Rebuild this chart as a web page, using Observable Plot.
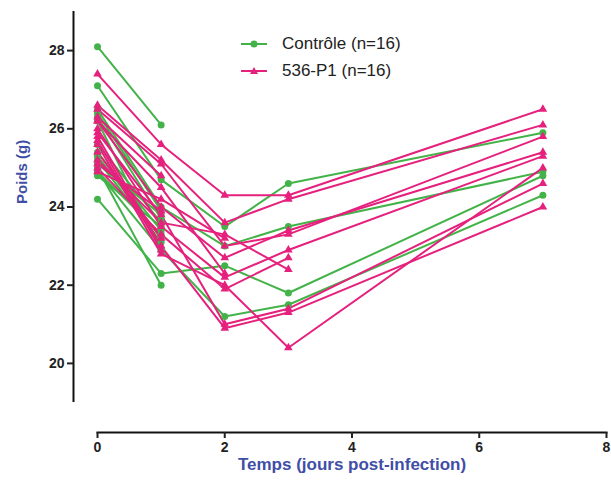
<!DOCTYPE html>
<html>
<head>
<meta charset="utf-8">
<script src="https://cdn.jsdelivr.net/npm/d3@7"></script>
<script src="https://cdn.jsdelivr.net/npm/@observablehq/plot@0.6"></script>
<style>
  html, body { margin: 0; padding: 0; background: #fff; }
  #wrap { position: relative; width: 611px; height: 486px; font-family: "Liberation Sans", Arial, sans-serif; }
  #legend { position: absolute; left: 240px; top: 30px; font-size: 17px; color: #222; line-height: 27px; }
  #legend div { display: flex; align-items: center; height: 27px; }
  #legend svg { margin-right: 14px; }
</style>
</head>
<body>
<div id="wrap">
  <div id="chart"></div>
  <div id="legend"></div>
</div>
<script>
// Days of measurement
const days = [0, 1, 2, 3, 7];
// Series names and colours
const groups = ["Contrôle (n=16)", "536-P1 (n=16)"];
const colors = ["#43b349", "#e5207d"];
// Axis ticks / domains
const xTicks = [0, 2, 4, 6, 8];
const yTicks = [20, 22, 24, 26, 28];
const xDomain = [0, 8];
const yDomain = [19, 29];
const xTitle = "Temps (jours post-infection)";
const yTitle = "Poids (g)";

// Contrôle: weight per mouse at days 0,1,2,3,7 (null = not measured)
const controle = [
  [28.1, 26.1, null, null, null],
  [27.1, 24.7, 23.5, 24.6, 25.9],
  [26.5, 24.0, 23.0, 23.5, 24.9],
  [24.2, 22.3, 22.5, 21.8, 24.8],
  [26.2, 22.9, 21.2, 21.5, 24.3],
  [26.4, 23.9, null, null, null],
  [25.6, 23.6, null, null, null],
  [25.4, 23.4, null, null, null],
  [25.3, 23.2, null, null, null],
  [25.1, 23.8, null, null, null],
  [25.0, 22.0, null, null, null],
  [24.9, 23.3, null, null, null],
  [24.8, 23.5, null, null, null],
  [26.3, 23.7, null, null, null],
  [25.2, 23.1, null, null, null],
  [24.9, 22.9, null, null, null]
];
// 536-P1: weight per mouse at days 0,1,2,3,7
const p1 = [
  [27.4, 25.6, 24.3, 24.3, 26.5],
  [26.6, 25.2, 23.6, 24.2, 26.1],
  [26.5, 25.1, 23.0, 23.3, 25.8],
  [26.2, 24.0, 22.7, 23.4, 25.4],
  [26.0, 23.5, 22.2, 22.9, 25.3],
  [25.9, 23.8, 21.0, 21.4, 24.6],
  [25.8, 23.0, 20.9, 21.3, 24.0],
  [25.6, 22.8, 22.0, 20.4, 25.0],
  [25.2, 23.6, 23.3, 22.4, null],
  [25.0, 23.3, 21.9, 22.7, null],
  [24.9, 24.2, 23.2, null, null],
  [26.2, 24.5, 22.3, null, null],
  [25.4, 23.2, null, null, null],
  [25.7, 22.9, null, null, null],
  [26.3, 24.8, null, null, null],
  [25.1, 23.9, null, null, null]
];

function tidy(rows, g) {
  const out = [];
  rows.forEach((r, i) => r.forEach((v, j) => {
    if (v != null) out.push({group: g, id: g + "-" + i, day: days[j], w: v});
  }));
  return out;
}
const dataC = tidy(controle, groups[0]);
const dataP = tidy(p1, groups[1]);

const chart = Plot.plot({
  width: 611,
  height: 486,
  marginLeft: 97,
  marginRight: 5,
  marginTop: 11,
  marginBottom: 54,
  style: {fontFamily: "Liberation Sans, Arial, sans-serif", background: "#fff"},
  x: {domain: xDomain, ticks: xTicks},
  y: {domain: yDomain, range: [402, 11], ticks: yTicks},
  marks: [
    // y axis line, offset to the left of the plotting area
    Plot.ruleX([xDomain[0]], {y1: yDomain[0], y2: yDomain[1], dx: -24, stroke: "#111", strokeWidth: 2}),
    Plot.axisY({ticks: yTicks, dx: -24, tickSize: 6, strokeWidth: 2, tickPadding: 3, fontSize: 14, fontWeight: "bold", color: "#222", label: null}),
    // x axis line
    Plot.frame({anchor: "bottom", stroke: "#111", strokeWidth: 2}),
    Plot.axisX({ticks: xTicks, tickSize: 6, strokeWidth: 2, tickPadding: 4, fontSize: 14, fontWeight: "bold", color: "#222", label: null}),
    Plot.line(dataC, {x: "day", y: "w", z: "id", stroke: colors[0], strokeWidth: 2}),
    Plot.line(dataP, {x: "day", y: "w", z: "id", stroke: colors[1], strokeWidth: 2}),
    Plot.dot(dataC, {x: "day", y: "w", fill: colors[0], r: 3.5, symbol: "circle"}),
    Plot.dot(dataP, {x: "day", y: "w", fill: colors[1], r: 3.2, symbol: "triangle"}),
    Plot.text([yTitle], {frameAnchor: "left", rotate: -90, dx: -75, dy: -18, fontSize: 15, fontWeight: "bold", fill: "#3f4ea6"}),
    Plot.text([xTitle], {frameAnchor: "bottom", dy: 37, fontSize: 17, fontWeight: "bold", fill: "#3f4ea6"})
  ]
});
document.getElementById("chart").appendChild(chart);

// Legend
const legend = document.getElementById("legend");
groups.forEach((g, i) => {
  const row = document.createElement("div");
  const marker = i === 0
    ? `<circle cx="14" cy="6" r="3.5" fill="${colors[i]}"/>`
    : `<path d="M14,2 L18,9 L10,9 Z" fill="${colors[i]}"/>`;
  row.innerHTML = `<svg width="28" height="12"><line x1="1" x2="27" y1="6" y2="6" stroke="${colors[i]}" stroke-width="2"/>${marker}</svg><span>${g}</span>`;
  legend.appendChild(row);
});
</script>
</body>
</html>
